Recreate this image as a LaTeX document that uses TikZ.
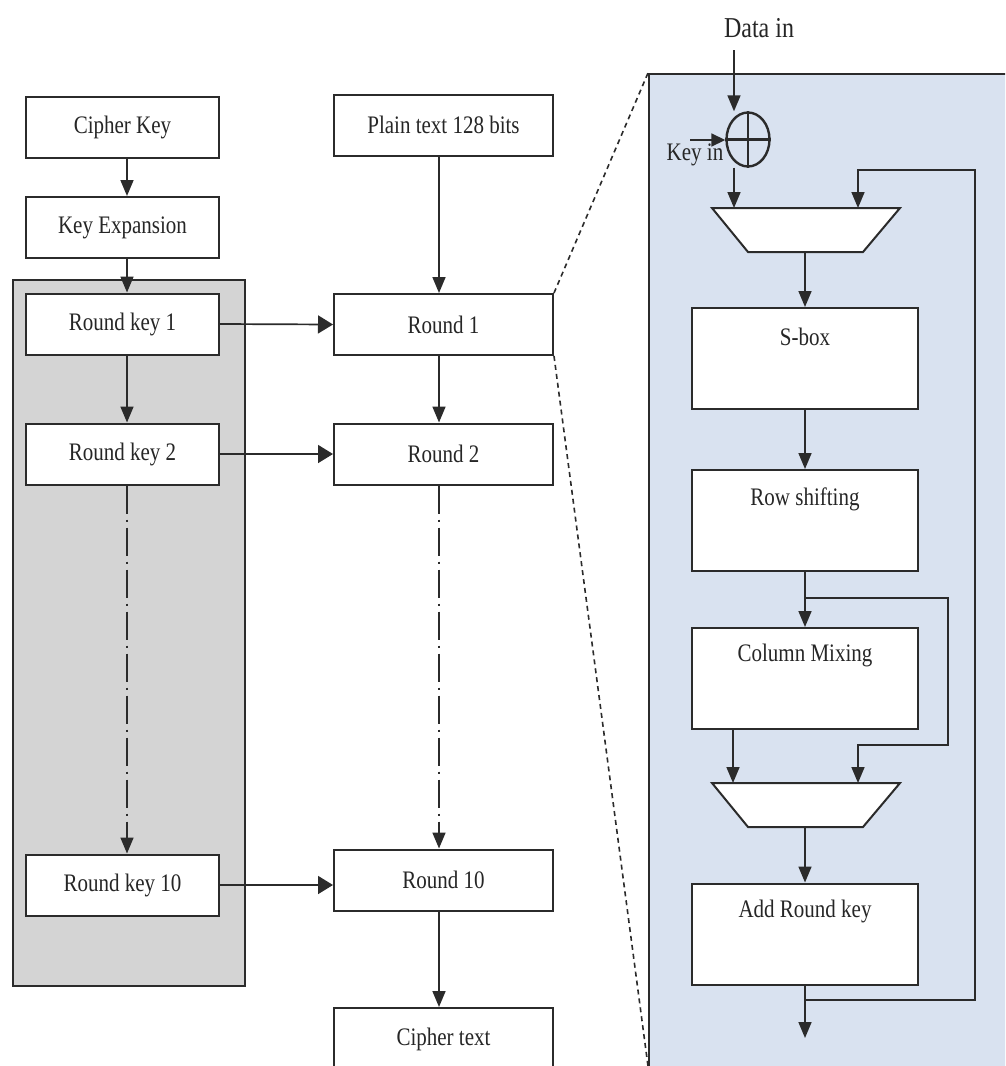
\documentclass[tikz,border=0pt]{standalone}
\usepackage{fontspec}
\setmainfont{Liberation Serif}
\usepackage{graphicx}
\usetikzlibrary{arrows.meta,shapes.geometric}
\newcommand{\tall}[1]{\scalebox{1}[1.2]{#1}}
\definecolor{edge}{HTML}{2B2B2B}
\definecolor{keyfill}{HTML}{D4D4D4}
\definecolor{zoomfill}{HTML}{D9E2F0}

\begin{document}
\begin{tikzpicture}[x=1pt,y=-1pt,
  every node/.style={font=\fontsize{21}{24}\selectfont, text=black!85},
  stepbox/.style={draw=edge, line width=2pt, fill=white, inner sep=0pt},
  kbox/.style={stepbox, minimum width=193pt, minimum height=61pt},
  rbox/.style={stepbox, minimum width=219pt, minimum height=61pt},
  pbox/.style={stepbox, minimum width=226pt, minimum height=101pt},
  wire/.style={draw=edge, line width=1.7pt},
  varrow/.style={wire, -{Triangle[length=16pt,width=13pt]}},
  harrow/.style={wire, -{Triangle[length=15pt,width=18pt]}},
  dashdot/.style={wire, dash pattern=on 28pt off 6pt on 2pt off 6pt, -{Triangle[length=16pt,width=13pt]}},
  zoomline/.style={draw=edge, line width=1.6pt, dash pattern=on 5pt off 4pt},
  mux/.style={draw=edge, line width=2pt, fill=white, line join=miter}
]
\clip (0,0) rectangle (1005,1066);
\fill[white] (0,0) rectangle (1005,1066);

% enlarged view of one round
\node[draw=edge, line width=1.6pt, fill=zoomfill, anchor=north west,
      minimum width=380pt, minimum height=1020pt] (panel) at (648,73) {};
% key schedule area
\node[draw=edge, line width=1.6pt, fill=keyfill, anchor=north west,
      minimum width=232pt, minimum height=706pt] (keys) at (12,279) {};

% key column
\node[kbox] (ck)   at (122.5,127.5) {\tall{Cipher Key}};
\node[kbox] (ke)   at (122.5,227.5) {\tall{Key Expansion}};
\node[kbox] (rk1)  at (122.5,324)   {\tall{Round key 1}};
\node[kbox] (rk2)  at (122.5,454)   {\tall{Round key 2}};
\node[kbox] (rk10) at (122.5,885)   {\tall{Round key 10}};

% round column
\node[rbox] (pt)  at (443.5,125)   {\tall{Plain text 128 bits}};
\node[rbox] (r1)  at (443.5,324.5) {\tall{Round 1}};
\node[rbox] (r2)  at (443.5,454)   {\tall{Round 2}};
\node[rbox] (r10) at (443.5,880)   {\tall{Round 10}};
\node[rbox, minimum height=62pt] (ct) at (443.5,1039) {\tall{Cipher text}};

% key column flow
\draw[varrow] ([xshift=4.5pt]ck.south) -- ([xshift=4.5pt]ke.north);
\draw[varrow] ([xshift=4.5pt]ke.south) -- ([xshift=4.5pt]rk1.north);
\draw[varrow] ([xshift=4.5pt]rk1.south) -- ([xshift=4.5pt]rk2.north);
\draw[dashdot] ([xshift=4.5pt]rk2.south) -- ([xshift=4.5pt]rk10.north);

% round column flow
\draw[varrow] ([xshift=-4.5pt]pt.south) -- ([xshift=-4.5pt]r1.north);
\draw[varrow] ([xshift=-4.5pt]r1.south) -- ([xshift=-4.5pt]r2.north);
\draw[dashdot] ([xshift=-4.5pt]r2.south) -- ([xshift=-4.5pt]r10.north);
\draw[varrow] ([xshift=-4.5pt]r10.south) -- ([xshift=-4.5pt]ct.north);

% round keys into rounds
\draw[harrow] (rk1.east) -- (r1.west);
\draw[harrow] (rk2.east) -- (r2.west);
\draw[harrow] (rk10.east) -- (rk10.east -| r10.west);

% zoom lines
\coordinate (zoomlow) at (648,1066);
\draw[zoomline] (r1.north east) -- (panel.north west);
\draw[zoomline] (r1.south east) -- (zoomlow);

% ---- inside one round ----
\node (din) at (759,28) {\fontsize{24}{28}\selectfont\tall{Data in}};
\node[draw=edge, line width=2.4pt, ellipse, minimum width=43pt, minimum height=54pt,
      inner sep=0pt] (xor) at (748,139.5) {};
\draw[draw=edge, line width=2.2pt] (xor.north) -- (xor.south) (xor.west) -- (xor.east);
\coordinate (dsrc) at (734,50);
\draw[varrow] (dsrc) -- (dsrc |- xor.north);
\coordinate (ksrc) at (690,140);
\draw[wire, -{Triangle[length=14pt,width=13pt]}] (ksrc) -- (ksrc -| xor.west);
\node (kin) at (695,155) {\tall{Key in}};

% first multiplexer
\coordinate (m1tl) at (712,208);
\coordinate (m1tr) at (900,208);
\coordinate (m1br) at (863,252);
\coordinate (m1bl) at (748,252);
\coordinate (m1a) at (734,208);
\coordinate (m1b) at (858,208);
\coordinate (m1o) at (805,252);
\draw[mux] (m1tl) -- (m1tr) -- (m1br) -- (m1bl) -- cycle;

% stages
\node[pbox] (sbox) at (805,358.5) {};
\node (sboxt) at ([yshift=-30pt]sbox.north) {\tall{S-box}};
\node[pbox] (rs) at (805,520.5) {};
\node (rst) at ([yshift=-30pt]rs.north) {\tall{Row shifting}};
\node[pbox] (cm) at (805,678.5) {};
\node (cmt) at ([yshift=-28pt]cm.north) {\tall{Column Mixing}};
\node[pbox] (ark) at (805,934) {};
\node (arkt) at ([yshift=-29pt]ark.north) {\tall{Add Round key}};

% second multiplexer
\coordinate (m2tl) at (712,783);
\coordinate (m2tr) at (900,783);
\coordinate (m2br) at (863,827);
\coordinate (m2bl) at (748,827);
\coordinate (m2a) at (733,783);
\coordinate (m2b) at (858,783);
\coordinate (m2o) at (805,827);
\draw[mux] (m2tl) -- (m2tr) -- (m2br) -- (m2bl) -- cycle;

% data path
\draw[varrow] (xor.south -| m1a) -- (m1a);
\draw[varrow] (m1o) -- (sbox.north);
\draw[varrow] (sbox.south) -- (rs.north);
\draw[varrow] (rs.south) -- (cm.north);
\draw[varrow] (cm.south -| m2a) -- (m2a);
\coordinate (byr) at (948,598);
\coordinate (byb) at (948,745);
\draw[varrow] (rs.south |- byr) -- (byr) -- (byb) -- (byb -| m2b) -- (m2b);
\draw[varrow] (m2o) -- (ark.north);
\coordinate (aout) at (805,1038);
\draw[varrow] (ark.south) -- (aout);
\coordinate (fbr) at (975,1000);
\coordinate (fbt) at (975,170);
\draw[varrow] (ark.south |- fbr) -- (fbr) -- (fbt) -- (fbt -| m1b) -- (m1b);
\end{tikzpicture}
\end{document}
